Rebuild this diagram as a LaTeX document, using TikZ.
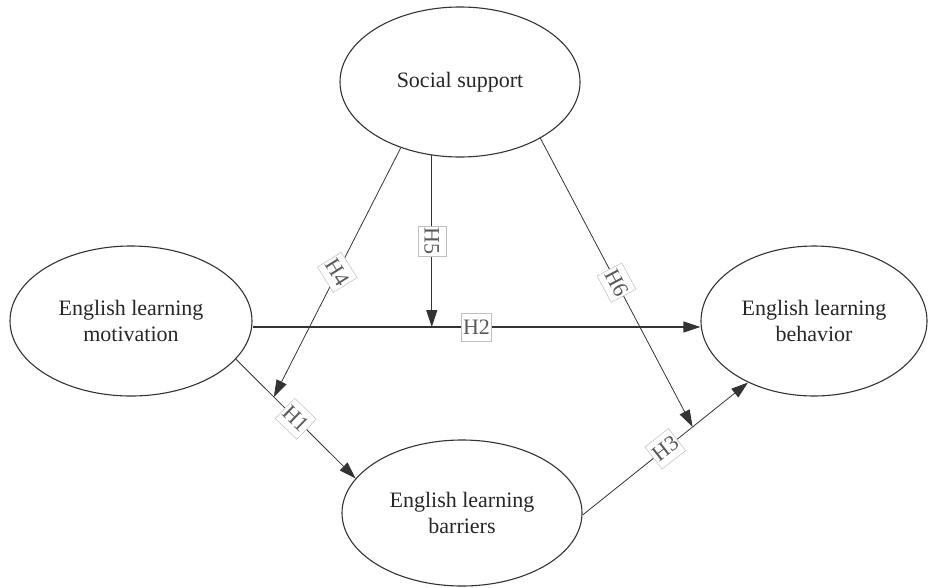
\documentclass[tikz,border=0pt]{standalone}
\usepackage{fontspec}
\setmainfont{Liberation Serif}
\usetikzlibrary{shapes.geometric,arrows.meta,calc}
\begin{document}
\begin{tikzpicture}[x=1pt,y=-1pt,
  every node/.style={font=\fontsize{22}{26}\selectfont},
  var/.style={ellipse, draw=black!80, line width=1.1pt, inner sep=0pt, align=center, text=black!85},
  link/.style={draw=black!80, line width=0.8pt, -{Triangle[length=17pt,width=11pt]}},
  strong/.style={line width=1.2pt},
  hlab/.style={fill=white, draw=black!25, line width=0.5pt, text=black!65, inner xsep=1.5pt, inner ysep=0pt, minimum height=28pt, pos=0.5}
]
\useasboundingbox (0,0) rectangle (931,587);
\node[var, minimum width=240pt, minimum height=150pt] (soc) at (460,82) {Social support};
\node[var, minimum width=242pt, minimum height=150pt] (mot) at (131,321) {English learning\\motivation};
\node[var, minimum width=226pt, minimum height=150pt] (beh) at (814,321) {English learning\\behavior};
\node[var, minimum width=240pt, minimum height=146pt] (bar) at (462,513) {English learning\\barriers};
\coordinate (h2y) at (0,327);
\draw[link, strong] (mot.east |- h2y) -- node[hlab]{H2} (beh.west |- h2y);
\draw[link, strong] (soc.-111) -- node[hlab, rotate=-90]{H5} (soc.-111 |- h2y);
\draw[link] (mot.-20) -- node[hlab, rotate=-44]{H1} (bar.162);
\draw[link] (soc.-132) -- node[hlab, rotate=-58]{H4} ($(mot.-20)!0.317!(bar.162)$);
\draw[link] (bar.-1) -- node[hlab, rotate=38]{H3} (beh.-137);
\draw[link] (soc.-35) -- node[hlab, rotate=-62]{H6} ($(bar.-1)!0.665!(beh.-137)$);
\end{tikzpicture}
\end{document}
